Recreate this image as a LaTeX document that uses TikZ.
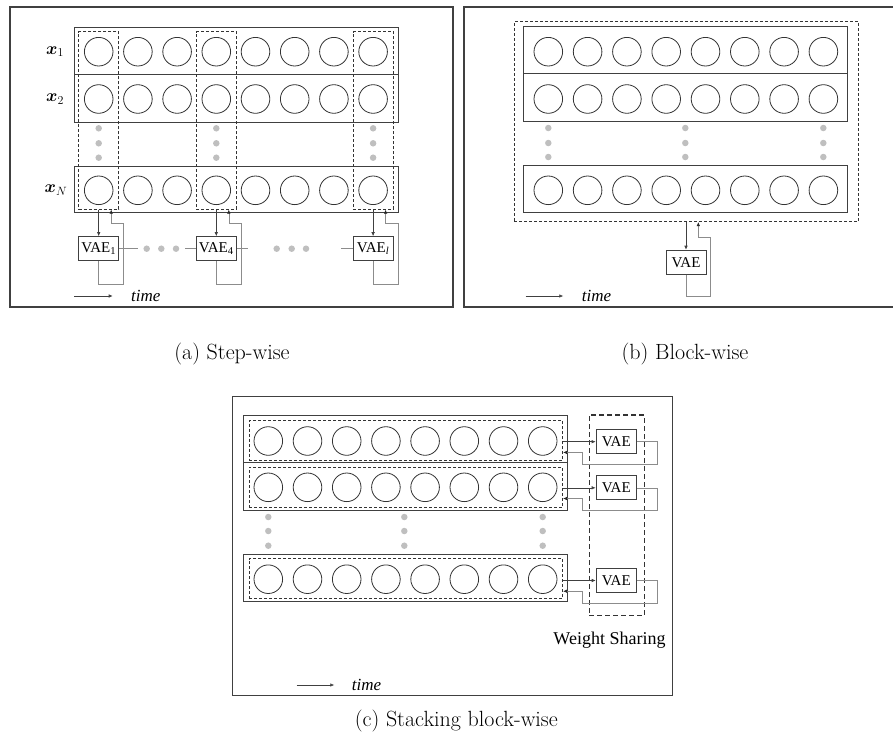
\documentclass[tikz,border=0pt]{standalone}
\usepackage{fontspec}
\usepackage{amsmath}
\usetikzlibrary{arrows.meta, positioning, calc}
\newfontfamily\figfont{Liberation Serif}

\begin{document}
\begin{tikzpicture}[
    x=1pt, y=-1pt,
    frame/.style={draw=black!75, line width=1.1pt},
    rowbox/.style={draw=black!75, line width=1pt, minimum width=324pt, inner sep=0pt},
    cell/.style={circle, draw=black!80, line width=0.8pt, minimum size=28.6pt, inner sep=0pt},
    colbox/.style={draw=black!80, dash pattern=on 3pt off 2pt, line width=0.7pt, minimum width=40pt, minimum height=177.6pt, inner sep=0pt},
    blkbox/.style={draw=black!80, dash pattern=on 3pt off 2pt, line width=0.7pt, inner sep=0pt},
    sharebox/.style={draw=black!80, dash pattern=on 5pt off 3pt, line width=1.2pt, minimum width=55pt, minimum height=200.7pt, inner sep=0pt},
    vae/.style={draw=black!75, line width=1pt, fill=white, minimum width=40pt, minimum height=24pt, inner sep=0pt, font=\figfont\fontsize{15}{17}\selectfont},
    dot/.style={circle, fill=black!25, minimum size=6.5pt, inner sep=0pt},
    arr/.style={-{Latex[length=4pt, width=3.5pt]}, draw=black!75, line width=0.6pt},
    fb/.style={-{Latex[length=4pt, width=3.5pt, color=black!85]}, draw=black!45, line width=0.6pt},
    link/.style={draw=black!45, line width=0.6pt},
    lbl/.style={font=\fontsize{18}{21}\selectfont},
    capt/.style={font=\fontsize{22}{26}\selectfont},
    timetxt/.style={font=\figfont\itshape\fontsize{17}{20}\selectfont, anchor=west, inner sep=0pt}
]
\useasboundingbox (0,0) rectangle (893,750);

% (a) step-wise
\draw[frame] (10,7) rectangle (453,307);
\node[rowbox, minimum height=47pt] (a-r1) at (236,50.5) {};
\node[rowbox, minimum height=48pt] (a-r2) at (236,98) {};
\node[rowbox, minimum height=46pt] (a-rN) at (236,189) {};
\foreach \r/\y in {1/51.7, 2/99, N/190.3}
  \foreach \i in {1,...,8}
    \node[cell] (a-\r-\i) at ({98.7+39.2*(\i-1)}, \y) {};
\foreach \i in {1,4,8} {
  \node[colbox] (a-col\i) at (a-1-\i |- 0,120.5) {};
  \foreach \y [count=\k] in {128.3,143.3,157.7}
    \node[dot] (a-d\i-\k) at (a-1-\i |- 0,\y) {};
}
\node[lbl] (a-x1) at (55,51.7) {$\boldsymbol{x}_1$};
\node[lbl] (a-x2) at (55,99) {$\boldsymbol{x}_2$};
\node[lbl] (a-xN) at (56,190.3) {$\boldsymbol{x}_N$};

\node[vae] (vae1) at (a-col1 |- 0,248.7) {VAE\textsubscript{1}};
\node[vae] (vae4) at (a-col4 |- 0,248.7) {VAE\textsubscript{4}};
\node[vae] (vael) at (a-col8 |- 0,248.7) {VAE\textsubscript{\textit{l}}};
\foreach \v/\c in {vae1/a-col1, vae4/a-col4, vael/a-col8} {
  \draw[arr] (\c.south) -- (\v.north);
  \draw[fb] (\v.south) -- ++(0,23.3) -| ++(25,-61) -| ($(\c.south)+(12.5,0)$);
}
\draw[link] (vae1.east) -- ++(18.4,0);
\draw[link] (vae4.west) -- ++(-10.7,0);
\draw[link] (vae4.east) -- ++(11.6,0);
\draw[link] (vael.west) -- ++(-11.6,0);
\foreach \x [count=\k] in {146.7,161.3,176,276.7,291.7,306}
  \node[dot] (a-h\k) at (\x,248.7) {};

\coordinate (a-t0) at (74,296);
\coordinate (a-t1) at (112.7,296);
\draw[arr] (a-t0) -- (a-t1);
\node[timetxt] (a-time) at (131,296) {time};
\node[capt] (a-cap) at (232,354) {(a) Step-wise};

% (b) block-wise
\draw[frame] (893,7) -- (464,7) -- (464,307) -- (893,307);
\node[blkbox, minimum width=344.3pt, minimum height=200pt] (b-blk) at (686.2,121.7) {};
\node[rowbox, minimum height=47.3pt] (b-r1) at (685.5,50.3) {};
\node[rowbox, minimum height=47.7pt] (b-r2) at (685.5,97.8) {};
\node[rowbox, minimum height=47.3pt] (b-rN) at (685.5,188.7) {};
\foreach \r/\y in {1/51.7, 2/99, N/190.3}
  \foreach \i in {1,...,8}
    \node[cell] (b-\r-\i) at ({548.3+39.3*(\i-1)}, \y) {};
\foreach \x [count=\j] in {548.3,685.3,823.3}
  \foreach \y [count=\k] in {128,143,157}
    \node[dot] (b-d\j-\k) at (\x,\y) {};
\node[vae] (b-vae) at (686,262.2) {VAE};
\draw[arr] (b-blk.south -| b-vae) -- (b-vae.north);
\draw[fb] (b-vae.south) -- ++(0,21.7) -| ++(24.7,-59.3) -| ($(b-blk.south -| b-vae)+(12.3,0)$);

\coordinate (b-t0) at (525.7,296);
\coordinate (b-t1) at (563.3,296);
\draw[arr] (b-t0) -- (b-t1);
\node[timetxt] (b-time) at (581.7,296) {time};
\node[capt] (b-cap) at (685,354) {(b) Block-wise};

% (c) stacking block-wise
\draw[frame] (232.7,396.7) rectangle (672.7,695.7);
\node[rowbox, minimum height=47.3pt] (c-r1) at (405.3,438.7) {};
\node[rowbox, minimum height=47.7pt] (c-r2) at (405.3,486.2) {};
\node[rowbox, minimum height=47.3pt] (c-rN) at (405.3,577.7) {};
\foreach \r/\y in {1/440.7, 2/487.3, N/578.5}
  \node[blkbox, minimum width=313.7pt, minimum height=39.8pt] (c-in\r) at (405.85,\y) {};
\foreach \r/\y in {1/441, 2/487.3, N/579.2}
  \foreach \i in {1,...,8}
    \node[cell] (c-\r-\i) at ({268.3+39.2*(\i-1)}, \y) {};
\foreach \x [count=\j] in {268.3,404.3,542.7}
  \foreach \y [count=\k] in {517,531,545.7}
    \node[dot] (c-d\j-\k) at (\x,\y) {};
\node[sharebox] (c-share) at (616.8,515.4) {};
\node[vae] (c-vae1) at (616.2,441.7) {VAE};
\node[vae] (c-vae2) at (616.2,487.8) {VAE};
\node[vae] (c-vaeN) at (616.2,580.5) {VAE};
\foreach \r in {1,2,N} {
  \draw[arr] (c-in\r.east |- c-vae\r) -- (c-vae\r.west);
  \draw[fb] (c-vae\r.east) -- ++(21,0) -- ++(0,22.3) -- ++(-75,0) -- ++(0,-11.6) -- ($(c-in\r.east |- c-vae\r)+(0,10.7)$);
}
\node[font=\figfont\fontsize{18}{21}\selectfont] (c-ws) at (609.5,640) {Weight Sharing};

\coordinate (c-t0) at (296.7,685);
\coordinate (c-t1) at (334.3,685);
\draw[arr] (c-t0) -- (c-t1);
\node[timetxt] (c-time) at (351.7,685) {time};
\node[capt] (c-cap) at (456.3,720.7) {(c) Stacking block-wise};
\end{tikzpicture}
\end{document}
